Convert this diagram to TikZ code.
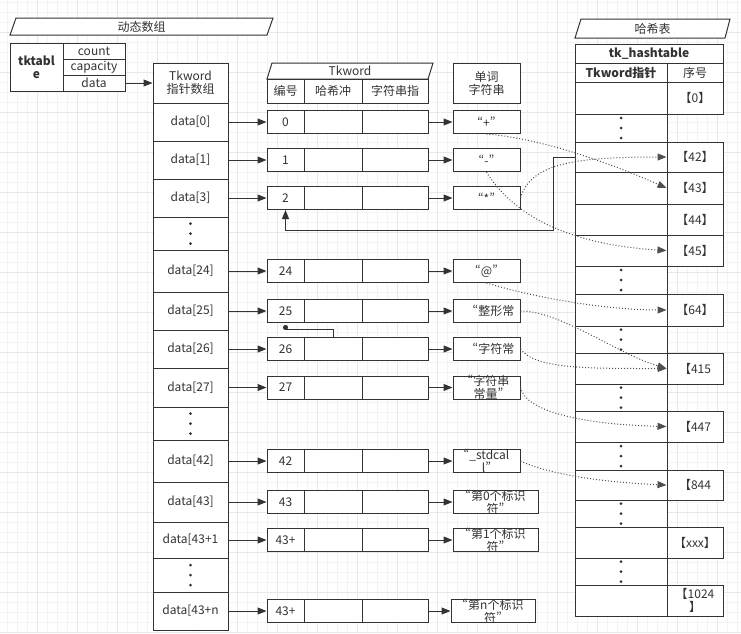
\documentclass[tikz,border=0pt]{standalone}
\usepackage{fontspec}
\setmainfont{Noto Sans CJK SC}[CharacterWidth=Proportional]
\usetikzlibrary{arrows.meta,positioning,calc}
\tikzset{>={Triangle[width=7pt,length=9pt]}}
\definecolor{line_gray}{RGB}{51,51,51}
\definecolor{dot_gray}{RGB}{80,80,80}
\definecolor{grid_minor}{RGB}{244,244,244}
\definecolor{grid_major}{RGB}{232,232,232}

\begin{document}
\begin{tikzpicture}[x=1pt,y=-1pt,
	every node/.style={font=\fontsize{12}{13}\selectfont, text=line_gray},
	box/.style={draw=line_gray, line width=1pt, fill=white, rectangle, inner sep=0pt, align=center},
	bold/.style={font=\fontsize{12}{13}\selectfont\bfseries},
	banner/.style={draw=line_gray, line width=1pt, fill=white},
	strtext/.style={align=center, inner sep=0pt},
	link/.style={->, draw=dot_gray, line width=1pt, dash pattern=on 1pt off 2pt},
	wire/.style={draw=line_gray, line width=1pt},
	gridline/.style={line width=0.8pt},
]
\useasboundingbox (0,0) rectangle (741,633);

% background grid
\foreach \x in {7.5,17.5,...,737.5} \draw[gridline,grid_minor] (\x,0) -- (\x,633);
\foreach \y in {2.5,12.5,...,632.5} \draw[gridline,grid_minor] (0,\y) -- (741,\y);
\foreach \x in {37.5,77.5,...,737.5} \draw[gridline,grid_major] (\x,0) -- (\x,633);
\foreach \y in {32.5,72.5,...,632.5} \draw[gridline,grid_major] (0,\y) -- (741,\y);

% titles
\draw[banner] (10,35) -- (16,18) -- (273,18) -- (267,35) -- cycle;
\node (arrtitle) at (141.5,26.5) {动态数组};
\draw[banner] (267,79) -- (272,63) -- (433,63) -- (428,79) -- cycle;
\node (tktitle) at (350,71) {Tkword};
\draw[banner] (575,38) -- (581,19) -- (730,19) -- (725,38) -- cycle;
\node (hashtitle) at (652.5,28.5) {哈希表};

% tktable
\node[box,bold,minimum width=53,minimum height=48] (tkname) at (36.5,67) {tktabl\\e};
\node[box,minimum width=62,minimum height=16] (tkcount) at (94,51) {count};
\node[box,minimum width=62,minimum height=16] (tkcap) at (94,67) {capacity};
\node[box,minimum width=62,minimum height=16] (tkdata) at (94,83) {data};

% pointer array
\node[box,minimum width=75,minimum height=40] (dhead) at (190.5,83) {Tkword\\指针数组};
\foreach \k/\lab/\yc/\h in {0/data[0]/122/38, 1/data[1]/160/38, 2/data[3]/198/38, 24/data[24]/271/42, 25/data[25]/311/38, 26/data[26]/349/38, 27/data[27]/387.5/39, 42/data[42]/461/42, 43/data[43]/502/40, 44/data[43+1/540/36, 4n/data[43+n/611/38}
	\node[box,minimum width=75,minimum height=\h] (d\k) at (190.5,\yc) {\lab};
\foreach \k/\yc/\h in {1/233.5/33, 2/423.5/33, 3/575/34}
	\node[box,minimum width=75,minimum height=\h] (dd\k) at (190.5,\yc) {};

% Tkword records and strings
\node[box,minimum width=37,minimum height=24] (tkno) at (285.5,91) {编号};
\node[box,minimum width=58,minimum height=24] (tkhash) at (333,91) {哈希冲};
\node[box,minimum width=66,minimum height=24] (tkptr) at (395,91) {字符串指};
\node[box,minimum width=67,minimum height=40] (strhead) at (486.5,83) {单词\\字符串};
\foreach \k/\num/\yc/\xs/\ws/\dx/\txt in {0/0/122/486.5/67/0/{“+”}, 1/1/160/486.5/67/0/{“-”}, 2/2/198/486.5/67/0/{“*”}, 24/24/271/486.5/67/0/{“@”}, 25/25/311/486.5/67/7/{“整形常}, 26/26/349/486.5/67/7/{“字符常}, 27/27/387.5/486.5/67/2/{“字符串\\常量”}, 42/42/461/486.5/67/0/{“\_stdcal\\l”}, 43/43/502/495.5/85/0/{“第0个标识\\符”}, 44/43+/540/495.5/85/0/{“第1个标识\\符”}, 4n/43+/611/493/84/0/{“第n个标识\\符”}} {
	\node[box,minimum width=37,minimum height=23] (n\k) at (285.5,\yc) {\num};
	\node[box,minimum width=58,minimum height=23] (c\k) at (333,\yc) {};
	\node[box,minimum width=66,minimum height=23] (p\k) at (395,\yc) {};
	\node[box,minimum width=\ws,minimum height=23,label={[strtext,xshift=\dx]center:\txt}] (s\k) at (\xs,\yc) {};
}

% hash table
\node[box,bold,minimum width=148,minimum height=19] (httitle) at (649,53.5) {tk\_hashtable};
\node[box,bold,minimum width=92,minimum height=19] (htcol1) at (621,72.5) {Tkword指针};
\node[box,minimum width=56,minimum height=19] (htcol2) at (695,72.5) {序号};
\foreach \k/\yc/\h/\txt in {0/98/32/{【0】}, 42/157/30/{【42】}, 43/188/32/{【43】}, 44/219.5/31/{【44】}, 45/250.5/31/{【45】}, 64/310/32/{【64】}, 415/368.5/31/{【415}, 447/426.5/31/{【447}, 844/485/30/{【844}, xxx/542.5/31/{【xxx】}, 1024/600.5/31/{【1024\\】}} {
	\node[box,minimum width=92,minimum height=\h] (hl\k) at (621,\yc) {};
	\node[box,minimum width=56,minimum height=\h] (hr\k) at (695,\yc) {\txt};
}
\foreach \k/\yc/\h in {1/128/28, 2/280/28, 3/339.5/27, 4/397.5/27, 5/456/28, 6/513.5/27, 7/571.5/27}
	\node[box,minimum width=92,minimum height=\h] (hd\k) at (621,\yc) {};

% ellipsis dots
\foreach \c in {dd1,dd2,dd3,hd1,hd2,hd3,hd4,hd5,hd6,hd7}
	\foreach \dy in {-10,0,10}
		\fill[line_gray] ($(\c.center)+(0,\dy)$) circle (1.5);

% pointers
\draw[wire,->] (tkdata) -- (dhead);
\foreach \k in {0,1,2,24,25,26,27,42,43,44,4n} {
	\draw[wire,->] (d\k) -- (n\k);
	\draw[wire,->] (p\k) -- (s\k);
}
\draw[wire,-{Circle[length=5pt]}] (c26.north) -- ++(0,-8) -| ($(n25.south)+(0,2)$);
\draw[wire,->] (hl42.west) -- ++(-21,0) |- ($(n2.south)+(0,20)$) -- (n2.south);

% hash links
\draw[link] (s0.south) .. controls +(60,5) and +(-50,-22) .. (hr43.west);
\draw[link] (s1.south) .. controls +(40,65) and +(-50,-3) .. (hr45.west);
\draw[link] (s2.east) .. controls +(10,-35) and +(-90,0) .. (hr42.west);
\draw[link] (s24.south) .. controls +(50,15) and +(-60,0) .. (hr64.west);
\draw[link] (s25.east) .. controls +(40,0) and +(-50,-15) .. (hr415.west);
\draw[link] (s26.east) .. controls +(15,20) and +(-80,0) .. (hr415.west);
\draw[link] (s27.east) .. controls +(5,25) and +(-80,-2) .. (hr447.west);
\draw[link] (s42.east) .. controls +(25,12) and +(-70,-3) .. (hr844.west);

\end{tikzpicture}
\end{document}
